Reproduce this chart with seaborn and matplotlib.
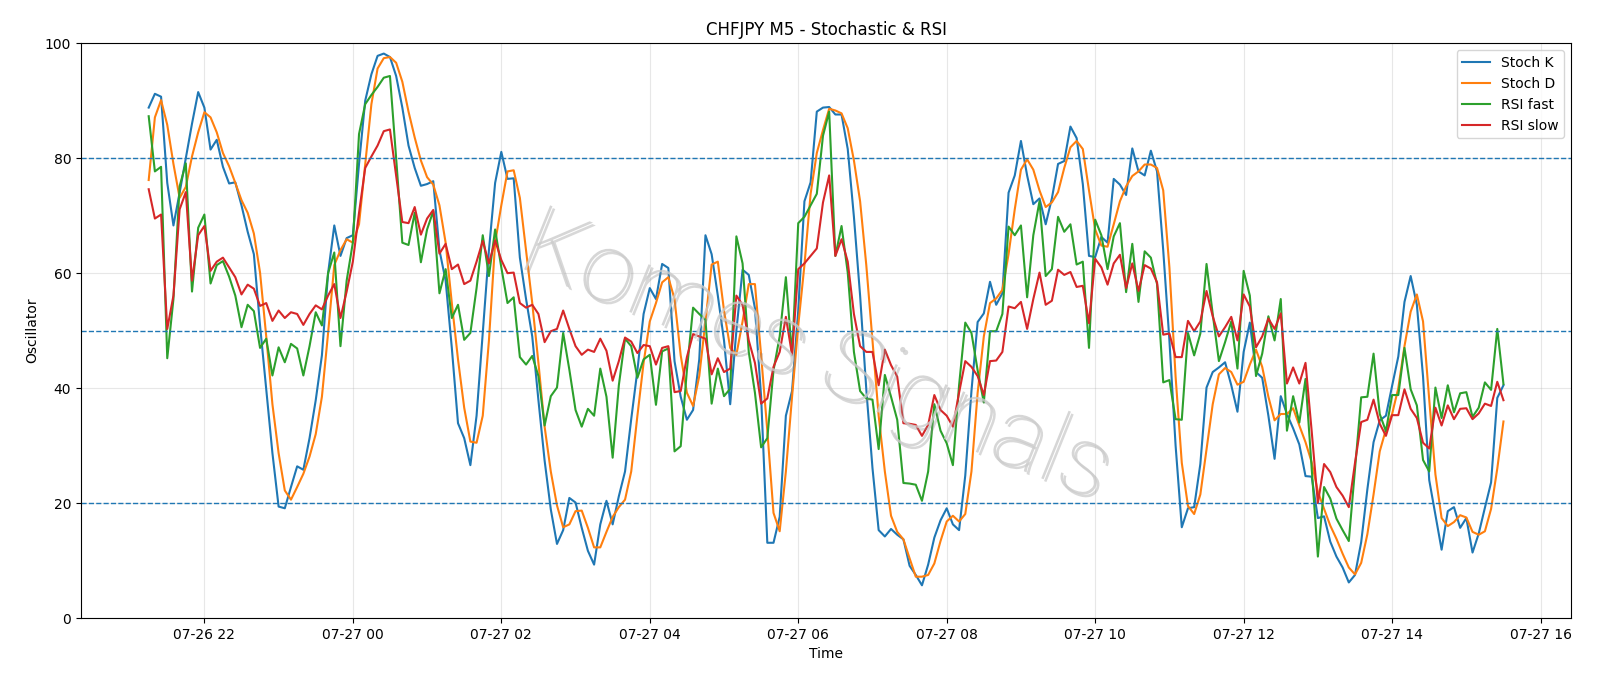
import numpy as np
import pandas as pd
import matplotlib
matplotlib.use("Agg")
import matplotlib.pyplot as plt
import matplotlib.dates as mdates
import matplotlib.patheffects as pe
import seaborn as sns

# 5-minute bars, 07-26 21:15 .. 07-27 15:30
times = pd.date_range("2024-07-26 21:15", periods=220, freq="5min")

stoch_k = [
    88.8, 91.2, 90.7, 75.7, 68.3, 74.0, 80.0, 86.0, 91.5, 88.8,
    81.5, 83.2, 78.5, 75.6, 75.8, 71.8, 67.2, 63.3, 50.9, 39.8,
    28.7, 19.4, 19.1, 22.8, 26.4, 25.8, 31.3, 37.9, 45.7, 60.0,
    68.3, 63.0, 66.1, 66.6, 79.0, 90.0, 94.6, 97.8, 98.2, 97.6,
    94.3, 88.8, 82.2, 78.3, 75.2, 75.5, 76.0, 64.0, 58.7, 47.0,
    33.9, 31.3, 26.6, 35.2, 49.6, 64.0, 75.7, 81.1, 76.4, 76.5,
    62.7, 55.5, 49.0, 37.9, 27.4, 18.9, 12.9, 15.3, 20.9, 20.1,
    15.7, 11.7, 9.3, 16.3, 20.4, 16.3, 21.2, 25.5, 34.6, 43.1,
    52.9, 57.4, 55.5, 61.6, 60.9, 44.7, 38.5, 34.5, 36.2, 45.0,
    66.6, 63.3, 56.1, 48.3, 37.2, 50.0, 60.6, 59.7, 53.9, 38.5,
    13.1, 13.1, 17.6, 35.2, 39.5, 53.5, 72.5, 75.8, 88.1, 88.8,
    88.9, 87.6, 87.6, 81.6, 69.8, 56.1, 39.8, 26.1, 15.3, 14.2,
    15.5, 14.5, 13.7, 9.1, 7.5, 5.7, 9.3, 14.0, 17.0, 19.1,
    16.3, 15.3, 24.8, 39.5, 51.5, 53.0, 58.5, 54.5, 56.5, 74.0,
    77.0, 83.0, 77.0, 72.0, 73.0, 68.5, 73.0, 79.0, 79.5, 85.5,
    83.5, 75.5, 63.0, 62.8, 66.3, 65.3, 76.4, 75.4, 73.6, 81.7,
    77.7, 77.0, 81.3, 77.7, 64.0, 48.3, 30.0, 15.8, 19.1, 19.3,
    26.8, 40.1, 42.8, 43.6, 44.5, 40.5, 35.9, 46.3, 51.4, 42.8,
    41.8, 35.2, 27.7, 38.6, 35.5, 33.0, 30.2, 24.7, 24.6, 17.4,
    17.7, 13.3, 10.7, 8.8, 6.2, 7.5, 13.2, 22.4, 30.6, 34.4,
    35.2, 40.4, 45.5, 55.0, 59.5, 54.5, 42.0, 24.0, 18.0, 11.9,
    18.6, 19.3, 15.7, 17.4, 11.4, 14.7, 19.2, 23.6, 38.3, 40.5,
]

stoch_d = [
    76.2, 87.1, 90.1, 85.8, 79.0, 73.1, 75.0, 80.3, 84.5, 88.0,
    87.1, 84.5, 80.9, 78.6, 75.7, 72.7, 70.5, 66.9, 60.1, 49.0,
    37.2, 28.7, 22.2, 20.6, 22.8, 25.1, 28.1, 32.0, 38.5, 49.6,
    61.4, 64.0, 65.9, 65.3, 68.5, 79.0, 89.4, 95.6, 97.4, 97.6,
    96.6, 93.3, 88.1, 83.6, 79.6, 76.7, 75.4, 71.8, 65.3, 54.8,
    45.0, 36.6, 30.7, 30.5, 35.2, 48.3, 65.3, 71.8, 77.7, 77.9,
    73.1, 64.0, 54.8, 44.4, 33.3, 25.5, 19.6, 15.8, 16.3, 18.6,
    18.7, 15.7, 12.3, 12.3, 15.0, 17.6, 19.3, 20.6, 25.5, 35.2,
    44.4, 51.6, 54.8, 58.4, 59.3, 55.5, 45.7, 39.2, 36.9, 42.1,
    51.6, 61.5, 62.0, 53.5, 47.0, 45.8, 51.6, 58.1, 58.1, 45.7,
    32.6, 18.3, 15.1, 25.5, 38.5, 50.9, 61.4, 73.8, 80.9, 84.9,
    88.6, 88.3, 87.8, 85.2, 79.6, 72.5, 61.4, 48.3, 35.2, 25.5,
    17.8, 15.0, 13.7, 10.4, 7.2, 7.2, 7.5, 9.5, 13.4, 16.8,
    17.8, 16.8, 18.1, 25.5, 39.2, 49.0, 54.8, 55.6, 57.1, 63.3,
    71.1, 78.0, 79.8, 78.0, 74.4, 71.5, 72.3, 74.1, 78.3, 81.9,
    83.0, 81.6, 74.4, 67.6, 64.8, 64.6, 68.5, 72.5, 75.1, 76.9,
    77.7, 78.9, 78.9, 78.3, 74.4, 61.0, 42.0, 27.0, 19.5, 18.1,
    21.5, 29.4, 37.2, 42.4, 43.5, 42.8, 40.6, 41.1, 44.1, 46.7,
    43.7, 38.5, 34.4, 35.5, 35.5, 36.5, 33.5, 30.6, 27.1, 22.0,
    19.0, 16.1, 13.8, 11.2, 8.8, 7.6, 9.6, 14.6, 21.5, 29.0,
    32.8, 35.5, 40.0, 47.3, 53.3, 56.3, 51.6, 38.0, 25.0, 17.4,
    16.0, 16.7, 17.9, 17.5, 15.0, 14.5, 15.1, 19.0, 26.0, 34.2,
]

rsi_fast = [
    87.3, 77.7, 78.5, 45.2, 55.5, 75.1, 79.1, 56.8, 67.9, 70.2,
    58.2, 61.4, 62.1, 59.4, 56.1, 50.6, 54.5, 53.4, 47.0, 48.6,
    42.2, 47.1, 44.5, 47.7, 46.9, 42.2, 47.3, 53.2, 50.9, 60.0,
    63.6, 47.3, 58.7, 65.3, 84.2, 89.4, 91.0, 92.4, 94.0, 94.3,
    80.0, 65.3, 64.9, 70.5, 61.9, 67.6, 70.8, 56.5, 60.7, 52.2,
    54.5, 48.4, 49.6, 57.4, 66.6, 59.5, 67.6, 61.0, 54.8, 55.8,
    45.4, 44.1, 45.6, 42.1, 33.5, 38.6, 40.1, 49.6, 43.2, 36.2,
    33.3, 36.4, 35.2, 43.4, 38.5, 27.9, 40.5, 48.6, 47.3, 41.8,
    45.0, 45.8, 37.1, 46.4, 46.9, 29.0, 29.9, 43.1, 54.0, 52.9,
    51.9, 37.3, 43.4, 38.6, 39.9, 66.4, 61.7, 46.3, 39.2, 29.7,
    31.3, 43.1, 49.0, 59.3, 45.7, 68.7, 69.8, 71.8, 73.8, 83.9,
    88.1, 63.0, 68.2, 60.1, 46.3, 39.5, 38.2, 38.0, 29.4, 42.3,
    38.5, 34.5, 23.5, 23.4, 23.2, 20.4, 25.5, 37.2, 32.6, 30.4,
    26.6, 40.5, 51.4, 49.6, 43.1, 37.5, 49.9, 49.9, 52.9, 68.1,
    66.6, 68.3, 55.8, 66.6, 72.5, 59.5, 60.7, 69.8, 67.2, 68.5,
    61.5, 62.0, 47.0, 69.3, 66.6, 60.7, 66.4, 68.7, 56.7, 65.1,
    55.0, 63.8, 62.7, 58.1, 41.0, 41.4, 34.6, 34.5, 49.6, 45.7,
    49.5, 61.6, 52.9, 44.7, 48.0, 51.6, 43.4, 60.4, 56.1, 42.1,
    46.0, 52.5, 48.3, 55.5, 32.6, 38.6, 34.0, 41.6, 26.0, 10.7,
    22.8, 20.8, 17.3, 15.3, 13.4, 26.0, 38.4, 38.5, 46.0, 35.5,
    32.5, 38.8, 38.8, 47.0, 39.8, 37.0, 27.5, 25.5, 40.1, 34.8,
    40.5, 35.8, 39.1, 39.3, 35.0, 36.6, 41.0, 39.7, 50.3, 40.7,
]

rsi_slow = [
    74.6, 69.5, 70.2, 50.3, 56.1, 71.1, 74.1, 58.7, 66.6, 68.2,
    60.4, 62.0, 62.7, 61.0, 59.3, 56.3, 58.0, 57.3, 54.3, 54.8,
    51.7, 53.5, 52.2, 53.2, 52.9, 51.0, 52.9, 54.4, 53.7, 56.1,
    58.1, 52.2, 56.8, 62.0, 70.5, 78.3, 80.3, 82.2, 84.7, 85.0,
    77.0, 68.9, 68.7, 71.5, 66.7, 69.5, 71.0, 63.4, 65.1, 60.7,
    61.5, 58.1, 58.7, 62.0, 65.6, 61.7, 65.7, 62.3, 60.0, 60.1,
    54.8, 54.0, 54.5, 52.9, 48.0, 49.9, 50.3, 53.5, 50.3, 47.3,
    45.8, 46.7, 46.3, 48.6, 46.5, 41.3, 44.7, 48.8, 48.1, 46.1,
    47.5, 47.3, 44.1, 47.0, 47.3, 39.3, 39.5, 45.4, 49.4, 49.0,
    48.6, 42.4, 45.2, 42.8, 43.4, 56.1, 54.5, 48.3, 44.4, 37.3,
    38.2, 43.7, 46.3, 52.4, 45.8, 60.7, 61.7, 63.0, 64.3, 72.3,
    77.0, 63.0, 65.9, 62.0, 52.9, 47.3, 46.3, 46.3, 40.5, 46.7,
    44.0, 42.0, 33.9, 33.8, 33.6, 31.7, 33.6, 38.8, 36.2, 35.2,
    33.3, 39.2, 44.7, 43.7, 42.1, 38.8, 44.7, 44.8, 46.3, 54.2,
    53.9, 55.0, 50.3, 55.5, 60.1, 54.5, 55.2, 60.6, 59.7, 60.2,
    57.6, 57.8, 51.3, 62.5, 61.0, 58.0, 61.7, 63.2, 57.4, 61.7,
    56.9, 61.4, 60.8, 58.4, 49.3, 49.5, 45.4, 45.4, 51.7, 49.9,
    51.6, 56.9, 52.5, 49.0, 50.6, 52.4, 48.3, 56.3, 54.2, 47.1,
    49.0, 52.1, 50.3, 53.0, 40.8, 43.6, 40.8, 44.4, 32.5, 20.0,
    26.8, 25.4, 22.8, 21.3, 19.3, 27.0, 34.1, 34.5, 38.0, 33.8,
    31.7, 35.3, 35.3, 39.8, 36.4, 34.8, 30.5, 29.5, 36.6, 33.5,
    37.0, 34.6, 36.4, 36.5, 34.6, 35.6, 37.3, 36.9, 41.1, 37.9,
]

series_names = ["Stoch K", "Stoch D", "RSI fast", "RSI slow"]
levels = [80, 50, 20]

df = pd.DataFrame({
    "Time": times,
    "Stoch K": stoch_k,
    "Stoch D": stoch_d,
    "RSI fast": rsi_fast,
    "RSI slow": rsi_slow,
}).melt(id_vars="Time", var_name="series", value_name="value")

fig, ax = plt.subplots(figsize=(16, 6.86), dpi=100)
fig.subplots_adjust(left=0.0506, right=0.982, bottom=0.099, top=0.937)

sns.lineplot(data=df, x="Time", y="value", hue="series", hue_order=series_names,
             palette=["tab:blue", "tab:orange", "tab:green", "tab:red"],
             linewidth=1.5, ax=ax)

for lv in levels:
    ax.axhline(lv, color="tab:blue", linestyle="--", linewidth=1)

ax.set_ylim(0, 100)
ax.grid(True, alpha=0.3)
ax.xaxis.set_major_locator(mdates.HourLocator(byhour=range(0, 24, 2)))
ax.xaxis.set_major_formatter(mdates.DateFormatter("%m-%d %H"))
ax.set_title("CHFJPY M5 - Stochastic & RSI")
ax.set_xlabel("Time")
ax.set_ylabel("Oscillator")
ax.legend(loc="upper right")

# watermark: thin grey letters with a soft shadow
ax.text(0.493, 0.45, "Komes Signals", transform=ax.transAxes, rotation=-22,
        fontsize=70, color="#cccccc", alpha=0.8, ha="center", va="center",
        family=["Roboto", "DejaVu Sans"], fontweight="light", zorder=5,
        path_effects=[pe.withSimplePatchShadow(offset=(2, -2), shadow_rgbFace="#909090", alpha=0.35)])

fig.savefig("out.png", dpi=100)
